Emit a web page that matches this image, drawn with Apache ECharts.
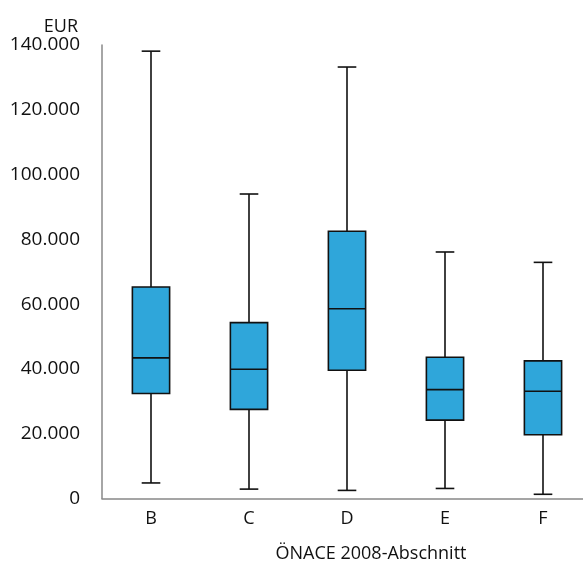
<!DOCTYPE html>
<html>
<head>
<meta charset="utf-8">
<script src="https://cdn.jsdelivr.net/npm/echarts@6/dist/echarts.min.js"></script>
<style>html,body{margin:0;padding:0;background:#fff}#c{width:583px;height:563px}</style>
</head>
<body>
<div id="c"></div>
<script>
const categories = ['B', 'C', 'D', 'E', 'F'];
const lows    = [4800, 2900, 2500, 3100, 1300];
const q1s     = [32400, 27500, 39600, 24200, 19700];
const medians = [43400, 39900, 58600, 33600, 33100];
const q3s     = [65300, 54300, 82500, 43600, 42500];
const highs   = [138100, 94000, 133200, 76100, 72900];
const yTicks  = [0, 20000, 40000, 60000, 80000, 100000, 120000, 140000];

const rows = categories.map((c, i) => [i, lows[i], q1s[i], medians[i], q3s[i], highs[i]]);
const FONT = 'Open Sans';
const fmt = v => String(v).replace(/\B(?=(\d{3})+(?!\d))/g, '.');

const chart = echarts.init(document.getElementById('c'), null, {renderer: 'canvas'});
chart.setOption({
  animation: false,
  backgroundColor: '#fff',
  grid: {left: 102, top: 45, width: 490, height: 453.5, outerBoundsMode: 'none', containLabel: false},
  xAxis: {
    type: 'category',
    data: categories,
    name: 'ÖNACE 2008-Abschnitt',
    nameLocation: 'middle',
    nameGap: 46,
    nameTextStyle: {color: '#111', fontSize: 18, fontFamily: FONT, padding: [0, 0, 0, 48]},
    axisLine: {lineStyle: {color: '#888', width: 1.5}},
    axisTick: {show: false},
    axisLabel: {color: '#111', fontSize: 18, fontFamily: FONT, margin: 11},
    splitLine: {show: false}
  },
  yAxis: {
    type: 'value',
    min: 0, max: 140000, interval: 20000,
    name: 'EUR',
    nameLocation: 'end',
    nameGap: 8,
    nameTextStyle: {color: '#111', fontSize: 18, fontFamily: FONT, align: 'right', verticalAlign: 'bottom', padding: [0, 24, 0, 0]},
    axisLine: {show: true, lineStyle: {color: '#888', width: 1.5}},
    axisTick: {show: false},
    splitLine: {show: false},
    axisLabel: {color: '#111', fontSize: 19, fontFamily: FONT, margin: 22,
      formatter: v => yTicks.includes(v) ? fmt(v) : ''}
  },
  series: [{
    type: 'custom',
    data: rows,
    encode: {x: 0, y: [1, 2, 3, 4, 5]},
    renderItem: function (params, api) {
      const x = api.value(0);
      const pLow = api.coord([x, api.value(1)]);
      const pQ1 = api.coord([x, api.value(2)]);
      const pMed = api.coord([x, api.value(3)]);
      const pQ3 = api.coord([x, api.value(4)]);
      const pHigh = api.coord([x, api.value(5)]);
      const bw = api.size([1, 0])[0] * 0.38;
      const cw = bw * 0.5;
      const cx = pLow[0];
      const st = {stroke: '#111', lineWidth: 1.6, fill: null};
      return {
        type: 'group',
        children: [
          {type: 'line', shape: {x1: cx, y1: pLow[1], x2: cx, y2: pQ1[1]}, style: st},
          {type: 'line', shape: {x1: cx, y1: pQ3[1], x2: cx, y2: pHigh[1]}, style: st},
          {type: 'line', shape: {x1: cx - cw / 2, y1: pLow[1], x2: cx + cw / 2, y2: pLow[1]}, style: st},
          {type: 'line', shape: {x1: cx - cw / 2, y1: pHigh[1], x2: cx + cw / 2, y2: pHigh[1]}, style: st},
          {type: 'rect', shape: {x: cx - bw / 2, y: pQ3[1], width: bw, height: pQ1[1] - pQ3[1]},
            style: {fill: '#2fa6da', stroke: '#111', lineWidth: 1.6}},
          {type: 'line', shape: {x1: cx - bw / 2, y1: pMed[1], x2: cx + bw / 2, y2: pMed[1]}, style: st}
        ]
      };
    }
  }]
});
</script>
</body>
</html>
